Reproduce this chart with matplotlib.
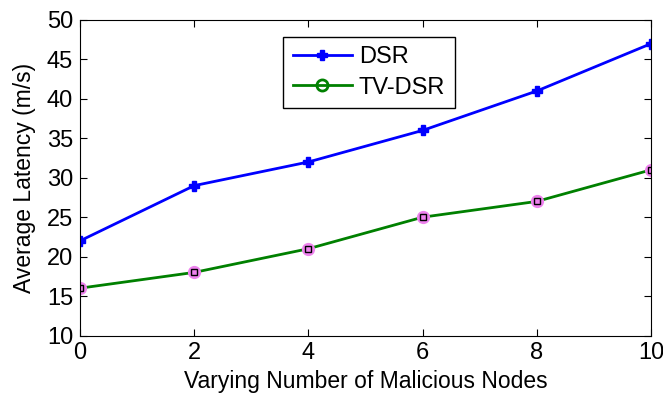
import numpy as np
import matplotlib.pyplot as plt
from matplotlib.lines import Line2D

plt.rcParams['font.family'] = 'Liberation Sans'

# data
nodes = [0, 2, 4, 6, 8, 10]
dsr = [22, 29, 32, 36, 41, 47]
tv_dsr = [16, 18, 21, 25, 27, 31]

fig = plt.figure(figsize=(6.63, 3.97), dpi=100)
ax = fig.add_axes([80 / 663, 1 - 335.5 / 397, 571 / 663, 315.5 / 397])

ax.plot(nodes, dsr, color='blue', lw=2, marker='P', ms=7, mec='blue', mfc='blue')
ax.plot(nodes, tv_dsr, color='green', lw=2, marker='o', ms=8, mec='violet', mfc='violet', mew=1.5)
ax.plot(nodes, tv_dsr, ls='none', marker='s', ms=5, mec='black', mfc='none', mew=1)

ax.set_xlim(0, 10)
ax.set_ylim(10, 50)
ax.set_xticks(np.arange(0, 11, 2))
ax.set_yticks(np.arange(10, 51, 5))
ax.tick_params(direction='in', top=True, right=True, labelsize=17, length=5, pad=5)
ax.set_xlabel('Varying Number of Malicious Nodes', fontsize=16.5, labelpad=4)
ax.set_ylabel('Average Latency (m/s)', fontsize=16.5, labelpad=8)

handles = [Line2D([], [], color='blue', lw=2, marker='P', ms=7, label='DSR'),
           Line2D([], [], color='green', lw=2, marker='o', ms=8, mfc='none', mew=2, label='TV-DSR')]
leg = ax.legend(handles=handles, loc='upper center', bbox_to_anchor=(0.506, 0.946), fontsize=17,
                fancybox=False, edgecolor='black', framealpha=1, handlelength=2.5,
                borderpad=0.4, labelspacing=0.35, handletextpad=0.3, borderaxespad=0)
leg.get_frame().set_linewidth(1)

fig.savefig('out.png', dpi=100)
